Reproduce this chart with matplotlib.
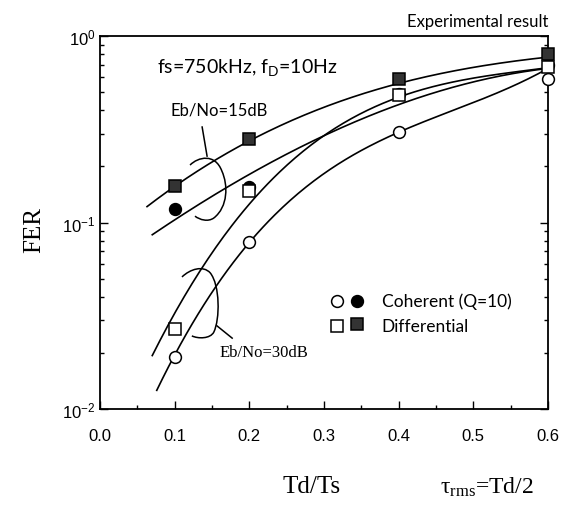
import numpy as np
import matplotlib
matplotlib.use('Agg')
import matplotlib.pyplot as plt
from matplotlib.path import Path
from matplotlib.patches import PathPatch

plt.rcParams['font.family'] = ['Liberation Sans', 'DejaVu Sans']
plt.rcParams['mathtext.default'] = 'regular'

# measured points (Td/Ts, FER)
x_meas = [0.1, 0.2, 0.4, 0.6]
coh_15 = [0.118, 0.155, 0.49, 0.70]      # filled circles
diff_15 = [0.157, 0.28, 0.59, 0.80]      # filled squares
coh_30 = [0.019, 0.079, 0.306, 0.59]     # open circles
diff_30 = [0.027, 0.148, 0.48, 0.68]     # open squares

# fitted curves
fit_diff15_x = [0.063, 0.1, 0.2, 0.24, 0.4, 0.6]
fit_diff15_y = [0.121, 0.157, 0.28, 0.32, 0.56, 0.77]
fit_coh15_x = [0.07, 0.1, 0.24, 0.4, 0.6]
fit_coh15_y = [0.085, 0.105, 0.22, 0.43, 0.67]
fit_diff30_x = [0.07, 0.1, 0.17, 0.2, 0.24, 0.3, 0.4, 0.6]
fit_diff30_y = [0.0205, 0.031, 0.08, 0.13, 0.2, 0.3, 0.45, 0.68]
fit_coh30_x = [0.076, 0.1, 0.2, 0.357, 0.4, 0.6]
fit_coh30_y = [0.0128, 0.019, 0.079, 0.25, 0.306, 0.67]

xticks = [0.0, 0.1, 0.2, 0.3, 0.4, 0.5, 0.6]
yticks = [0.01, 0.1, 1.0]
ytick_labels = ['10$^{-2}$', '10$^{-1}$', '10$^{0}$']

fig = plt.figure(figsize=(5.66, 5.06), dpi=100)
ax = fig.add_axes([100/566, 1-410/506, 448/566, 373/506])
ax.set_yscale('log')
ax.set_xlim(0, 0.6)
ax.set_ylim(0.01, 1.0)


def smooth(xs, ys):
    c = np.polyfit(xs, np.log10(ys), 3)
    xx = np.linspace(min(xs), max(xs), 200)
    return xx, 10 ** np.polyval(c, xx)


for fx, fy in [(fit_diff15_x, fit_diff15_y), (fit_coh15_x, fit_coh15_y),
               (fit_diff30_x, fit_diff30_y), (fit_coh30_x, fit_coh30_y)]:
    xx, yy = smooth(fx, fy)
    ax.plot(xx, yy, color='black', lw=1.2, zorder=2)

mk = dict(ms=8.5, mew=1.1, ls='none', clip_on=False)
ax.plot(x_meas, coh_15, 'o', mfc='black', mec='black', zorder=3, **mk)
ax.plot(x_meas, diff_30, 's', mfc='white', mec='black', zorder=4, **mk)
ax.plot(x_meas, diff_15, 's', mfc='#333333', mec='black', zorder=5, **mk)
ax.plot(x_meas, coh_30, 'o', mfc='white', mec='black', zorder=4, **mk)

# brackets grouping the curves
def bracket(pts):
    codes = [Path.MOVETO] + [Path.CURVE4] * (len(pts) - 1)
    ax.add_patch(PathPatch(Path(pts, codes), fc='none', ec='black', lw=1.1,
                           transform=ax.transAxes, zorder=2))

bracket([(0.201, 0.654), (0.219, 0.676), (0.257, 0.686), (0.272, 0.638),
         (0.286, 0.601), (0.286, 0.542), (0.254, 0.512),
         (0.241, 0.501), (0.223, 0.507), (0.212, 0.517)])
ax.plot([0.239, 0.228], [0.678, 0.756], color='black', lw=1.1, transform=ax.transAxes)
bracket([(0.183, 0.354), (0.201, 0.375), (0.230, 0.386), (0.246, 0.365),
         (0.268, 0.332), (0.268, 0.241), (0.254, 0.206),
         (0.246, 0.188), (0.219, 0.188), (0.205, 0.196)])
ax.plot([0.261, 0.295], [0.223, 0.190], color='black', lw=1.1, transform=ax.transAxes)

# legend drawn by hand
ax.plot([0.529], [0.290], 'o', mfc='white', mec='black', transform=ax.transAxes, **mk)
ax.plot([0.574], [0.290], 'o', mfc='black', mec='black', transform=ax.transAxes, **mk)
ax.plot([0.529], [0.223], 's', mfc='white', mec='black', transform=ax.transAxes, **mk)
ax.plot([0.574], [0.228], 's', mfc='#333333', mec='black', transform=ax.transAxes, **mk)
ax.text(0.629, 0.290, 'Coherent (Q=10)', transform=ax.transAxes, va='center',
        family=['Lato'], fontsize=12.5)
ax.text(0.629, 0.223, 'Differential', transform=ax.transAxes, va='center',
        family=['Lato'], fontsize=12.5)

fig.text(548/566, 1-22/506, 'Experimental result', ha='right', va='center',
         family=['Lato'], fontsize=12)
fig.text(157/566, 1-67/506, 'fs=750kHz, f$_D$=10Hz', va='center', fontsize=14,
         family=['Lato'])
fig.text(170/566, 1-111/506, 'Eb/No=15dB', va='center', fontsize=12,
         family=['Lato'])
fig.text(220/566, 1-353/506, 'Eb/No=30dB', va='center', fontsize=12,
         family=['Liberation Serif'])

ax.set_xticks(xticks)
ax.set_xticklabels([f'{v:.1f}' for v in xticks])
ax.set_xticks(np.arange(0.05, 0.6, 0.1), minor=True)
ax.set_yticks(yticks)
ax.set_yticklabels(ytick_labels)
ax.tick_params(which='both', direction='in', left=True, right=True, top=False,
               labelsize=12)
ax.tick_params(axis='x', which='major', length=6, width=1.0, pad=14)
ax.tick_params(axis='x', which='minor', length=3, width=1.0)
ax.tick_params(axis='y', which='major', length=6, width=1.0, pad=3)
ax.tick_params(axis='y', which='minor', length=3, width=1.0)
for s in ax.spines.values():
    s.set_linewidth(1.3)

fig.text(34/566, 1-230/506, 'FER', rotation=90, ha='center', va='center',
         family=['Liberation Serif'], fontsize=18)
fig.text(312/566, 1-487/506, 'Td/Ts', ha='center', va='center',
         family=['Liberation Serif'], fontsize=18)
fig.text(487/566, 1-487/506, '$\\tau_{rms}$=Td/2', ha='center', va='center',
         family=['Liberation Serif'], fontsize=17)

fig.savefig('out.png', dpi=100)
